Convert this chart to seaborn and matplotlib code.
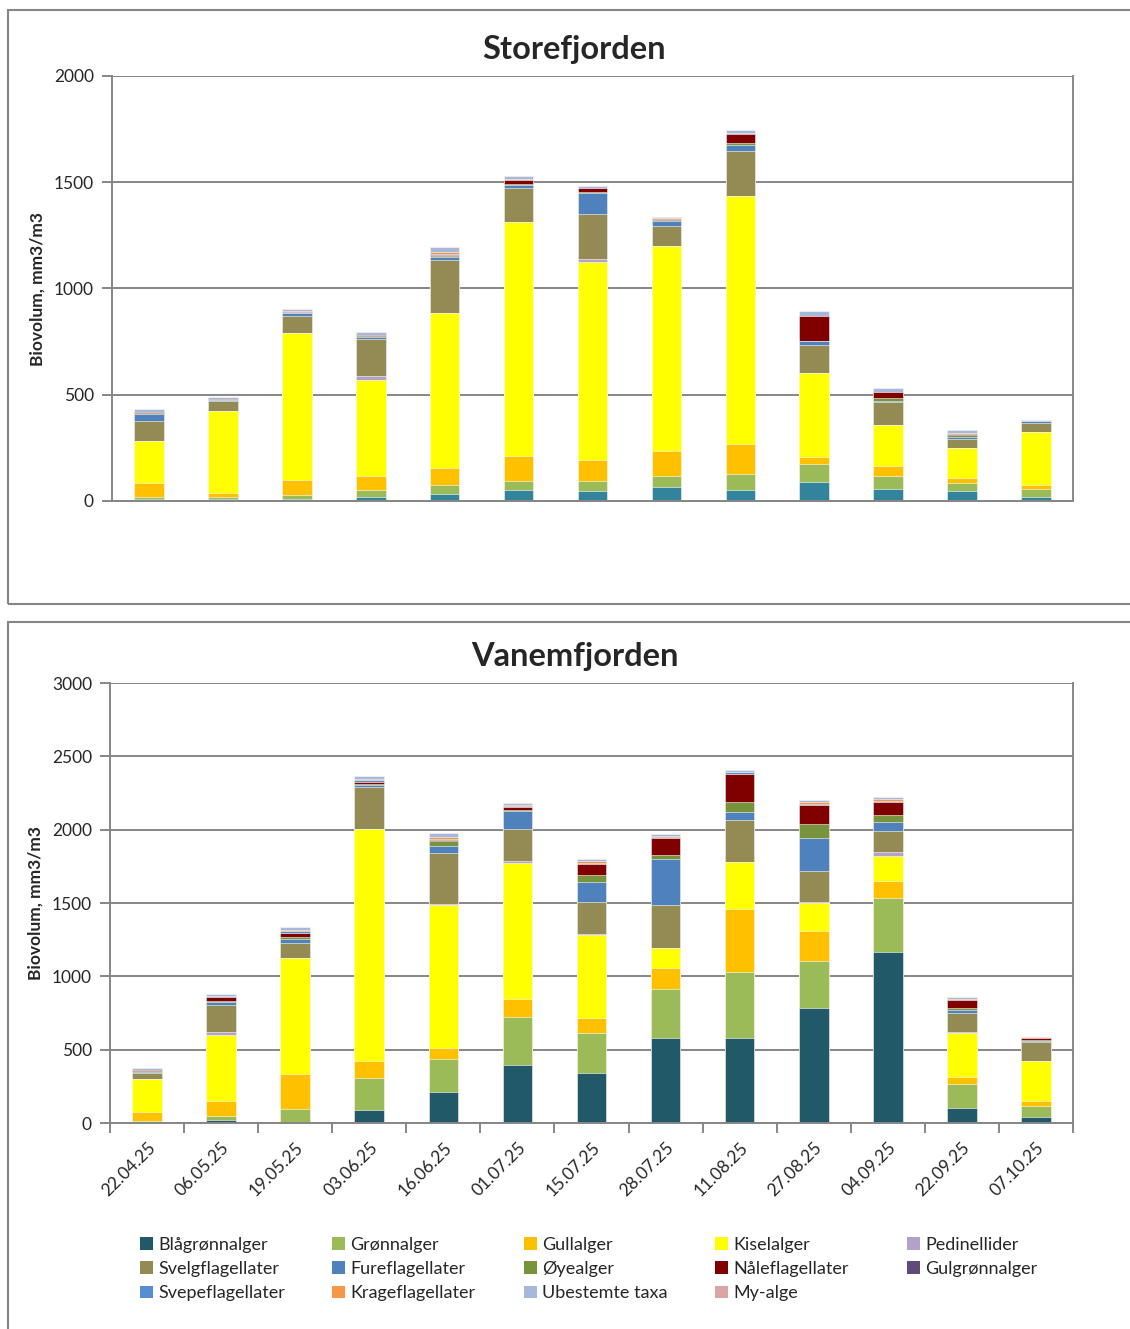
import pandas as pd
import seaborn as sns
import matplotlib.pyplot as plt
from matplotlib.patches import Patch, Rectangle

# Sampling dates (x categories)
dates = ['22.04.25', '06.05.25', '19.05.25', '03.06.25', '16.06.25', '01.07.25', '15.07.25',
         '28.07.25', '11.08.25', '27.08.25', '04.09.25', '22.09.25', '07.10.25']

groups = ['Blågrønnalger', 'Grønnalger', 'Gullalger', 'Kiselalger', 'Pedinellider',
          'Svelgflagellater', 'Fureflagellater', 'Øyealger', 'Nåleflagellater', 'Gulgrønnalger',
          'Svepeflagellater', 'Krageflagellater', 'Ubestemte taxa', 'My-alge']

# Storefjorden, biovolum mm3/m3 per group
store_blagronn = [8, 8, 8, 20, 34, 53, 49, 68, 50, 90, 55, 47, 17]
store_gronn = [9, 9, 19, 33, 41, 43, 47, 48, 77, 84, 63, 36, 41]
store_gull = [66, 22, 70, 63, 80, 114, 98, 117, 142, 32, 47, 24, 16]
store_kisel = [201, 384, 693, 453, 729, 1103, 931, 967, 1168, 394, 192, 143, 251]
store_pedi = [0, 0, 2, 17, 0, 0, 14, 0, 0, 0, 0, 0, 0]
store_svelg = [94, 47, 77, 177, 251, 162, 210, 96, 208, 132, 110, 41, 43]
store_fure = [33, 6, 14, 11, 12, 14, 99, 22, 31, 19, 3, 9, 7]
store_oye = [3, 0, 2, 3, 8, 4, 8, 4, 8, 3, 14, 9, 0]
store_nal = [3, 2, 4, 5, 2, 17, 19, 7, 44, 115, 30, 8, 0]
store_gulgronn = [0, 0, 0, 0, 0, 0, 0, 0, 0, 0, 0, 0, 0]
store_svepe = [0, 0, 0, 0, 6, 0, 0, 0, 4, 3, 0, 0, 0]
store_krage = [0, 0, 5, 0, 10, 6, 0, 3, 0, 0, 0, 5, 0]
store_ubest = [14, 11, 9, 12, 21, 12, 7, 6, 12, 22, 17, 13, 5]
store_my = [0, 0, 0, 0, 0, 0, 0, 0, 0, 0, 0, 0, 0]

# Vanemfjorden, biovolum mm3/m3 per group
vanem_blagronn = [2, 18, 2, 91, 209, 394, 343, 582, 582, 782, 1168, 105, 39]
vanem_gronn = [14, 30, 91, 219, 230, 326, 268, 334, 445, 320, 366, 161, 77]
vanem_gull = [59, 102, 239, 111, 71, 127, 105, 141, 430, 205, 116, 45, 32]
vanem_kisel = [223, 451, 791, 1585, 975, 929, 568, 134, 321, 193, 173, 303, 277]
vanem_pedi = [4, 18, 0, 0, 5, 7, 3, 0, 0, 9, 27, 4, 0]
vanem_svelg = [42, 187, 102, 285, 350, 223, 222, 298, 290, 212, 139, 130, 127]
vanem_fure = [6, 18, 27, 11, 52, 123, 137, 309, 53, 220, 61, 25, 5]
vanem_oye = [4, 7, 14, 9, 30, 5, 43, 32, 70, 96, 48, 9, 11]
vanem_nal = [6, 30, 32, 14, 9, 18, 79, 116, 187, 131, 93, 59, 9]
vanem_gulgronn = [0, 0, 0, 0, 0, 0, 0, 0, 0, 0, 0, 0, 0]
vanem_svepe = [2, 7, 9, 14, 7, 7, 5, 3, 12, 9, 7, 0, 0]
vanem_krage = [2, 0, 9, 9, 9, 7, 10, 7, 0, 9, 9, 7, 7]
vanem_ubest = [14, 11, 18, 20, 28, 18, 17, 17, 19, 19, 16, 9, 5]
vanem_my = [0, 0, 0, 0, 0, 0, 0, 0, 0, 0, 0, 0, 0]

colors = ['#215968', '#9BBB59', '#FFC000', '#FFFF00', '#B3A2C7',
          '#948A54', '#4F81BD', '#77933C', '#800000', '#604A7B',
          '#558ED5', '#F79646', '#A6B9DB', '#D9A5A5']
store_colors = ['#31849B'] + colors[1:]

store_df = pd.DataFrame(dict(zip(groups, [store_blagronn, store_gronn, store_gull, store_kisel,
                                          store_pedi, store_svelg, store_fure, store_oye,
                                          store_nal, store_gulgronn, store_svepe, store_krage,
                                          store_ubest, store_my])), index=dates)
vanem_df = pd.DataFrame(dict(zip(groups, [vanem_blagronn, vanem_gronn, vanem_gull, vanem_kisel,
                                          vanem_pedi, vanem_svelg, vanem_fure, vanem_oye,
                                          vanem_nal, vanem_gulgronn, vanem_svepe, vanem_krage,
                                          vanem_ubest, vanem_my])), index=dates)

sns.set_style('white')
plt.rcParams['font.family'] = ['Lato', 'DejaVu Sans']
grey = '#868686'
text_col = '#262626'

fig = plt.figure(figsize=(11.3, 13.29), dpi=100)

# outer chart frames
fig.add_artist(Rectangle((8 / 1130, 1 - 604 / 1329), 1.2, (604 - 10) / 1329,
                         transform=fig.transFigure, fill=False, edgecolor=grey, lw=1.5))
fig.add_artist(Rectangle((8 / 1130, -0.1), 1.2, 0.1 + (1329 - 622) / 1329,
                         transform=fig.transFigure, fill=False, edgecolor=grey, lw=1.5))

ax1 = fig.add_axes([112 / 1130, 1 - 501 / 1329, 961 / 1130, 425 / 1329])
ax2 = fig.add_axes([110 / 1130, 1 - 1123 / 1329, 963 / 1130, 440 / 1329])


def stacked(ax, df, cols, title, ymax, step, left_px):
    cum = df.cumsum(axis=1)
    # draw cumulative totals from the top down so each layer covers the one above it
    for g, c in zip(groups[::-1], cols[::-1]):
        sns.barplot(x=cum.index, y=cum[g].values, color=c, width=0.4, ax=ax,
                    edgecolor='white', linewidth=0.4, saturation=1)
    ax.set_ylim(0, ymax)
    ax.set_xlim(-0.5, len(dates) - 0.5)
    ax.set_yticks(range(0, ymax + 1, step))
    ax.yaxis.grid(True, color=grey, lw=1.4)
    ax.set_axisbelow(True)
    for s in ax.spines.values():
        s.set_color(grey)
        s.set_linewidth(1.4)
    ax.spines['top'].set_visible(False)
    ax.tick_params(axis='y', left=True, length=7, color=grey, width=1.4,
                   labelsize=12.5, labelcolor=text_col, pad=6)
    ax.set_ylabel('Biovolum, mm3/m3', fontsize=12.5, fontweight='bold', color=text_col, labelpad=6)
    ax.set_xlabel('')
    ax.set_title(title, fontsize=23.5, fontweight='bold', color=text_col, pad=12,
                 x=(574 - left_px) / 961)


stacked(ax1, store_df, store_colors, 'Storefjorden', 2000, 500, 112)
ax1.set_xticks([])

stacked(ax2, vanem_df, colors, 'Vanemfjorden', 3000, 500, 110)
ax2.set_xticks(range(len(dates)))
ax2.set_xticklabels(dates, rotation=45, ha='right', rotation_mode='anchor')
ax2.set_xticks([i - 0.5 for i in range(len(dates) + 1)], minor=True)
ax2.tick_params(axis='x', which='major', length=0, labelsize=12.5, labelcolor=text_col, pad=12)
ax2.tick_params(axis='x', which='minor', bottom=True, length=7, color=grey, width=1.4)

# legend: one column block per legend so the columns sit at even spacing like the reference
handles = [Patch(facecolor=c, edgecolor='none', label=g) for g, c in zip(groups, colors)]
col_x = [140, 332, 524, 715, 907]
for k, x in enumerate(col_x):
    idx = [k, k + 5, k + 10]
    idx = [i for i in idx if i < len(groups)]
    fig.legend([handles[i] for i in idx], [groups[i] for i in idx], ncol=1,
               loc='upper left', bbox_to_anchor=(x / 1130, 1 - 1237 / 1329), frameon=False,
               fontsize=13, handlelength=0.7, handleheight=0.7, handletextpad=0.3,
               borderpad=0, borderaxespad=0, labelspacing=0.45, labelcolor=text_col)

fig.savefig('out.png', dpi=100)
